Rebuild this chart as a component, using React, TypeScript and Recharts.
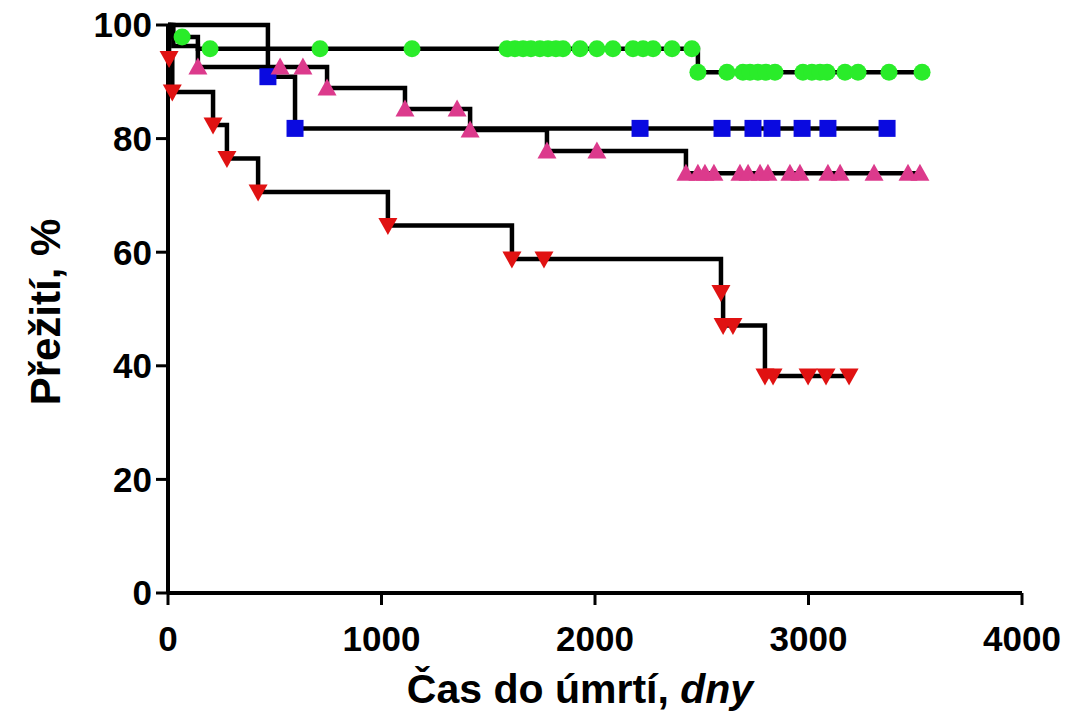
import React from "react";
import { ComposedChart, Line, Scatter, XAxis, YAxis, Label } from "recharts";

// Kaplan–Meier curves: event days and survival (%) after each event
const greenEventDays = [15, 140, 2482];
const greenEventSurv = [97.9, 95.8, 91.7];
const greenEndDay = 3532;
const greenMarkDays = [66, 197, 712, 1143, 1588, 1625, 1663, 1700, 1742, 1780, 1817, 1850, 1930, 2009, 2084, 2178, 2225, 2272, 2361, 2454, 2482, 2618, 2693, 2726, 2763, 2801, 2843, 2974, 3016, 3054, 3087, 3171, 3232, 3377, 3532];

const blueEventDays = [468, 595];
const blueEventSurv = [90.9, 81.8];
const blueEndDay = 3368;
const blueMarkDays = [468, 595, 2211, 2595, 2740, 2829, 2970, 3091, 3368];

const pinkEventDays = [25, 140, 745, 1110, 1415, 1775, 2426];
const pinkEventSurv = [96.3, 92.6, 88.9, 85.2, 81.5, 77.8, 73.9];
const pinkEndDay = 3522;
const pinkMarkDays = [140, 525, 632, 745, 1110, 1354, 1415, 1775, 2009, 2426, 2482, 2515, 2557, 2679, 2717, 2773, 2810, 2913, 2960, 3091, 3148, 3307, 3466, 3522];

const redEventDays = [5, 20, 211, 276, 422, 1030, 1611, 2590, 2600, 2796];
const redEventSurv = [94.1, 88.2, 82.4, 76.5, 70.6, 64.7, 58.8, 52.9, 47.1, 38.2];
const redEndDay = 3190;
const redMarkDays = [5, 20, 211, 276, 422, 1030, 1611, 1761, 2590, 2600, 2646, 2796, 2834, 2998, 3082, 3190];

const xTicks = [0, 1000, 2000, 3000, 4000];
const yTicks = [0, 20, 40, 60, 80, 100];

const GREEN = "#2aec2a";
const BLUE = "#0a0ae0";
const PINK = "#dc3a8c";
const RED = "#e01212";

function stepData(days: number[], surv: number[], end: number) {
  const pts = [{ x: 0, y: 100 }];
  days.forEach((d, i) => pts.push({ x: d, y: surv[i] }));
  pts.push({ x: end, y: surv[surv.length - 1] });
  return pts;
}

function survAt(days: number[], surv: number[], t: number) {
  let s = 100;
  days.forEach((d, i) => {
    if (d <= t) s = surv[i];
  });
  return s;
}

function markData(marks: number[], days: number[], surv: number[]) {
  return marks.map((t) => ({ x: t, y: survAt(days, surv, t) }));
}

const CircleMark = (p: any) => <circle cx={p.cx} cy={p.cy} r={8.5} fill={GREEN} />;
const SquareMark = (p: any) => (
  <rect x={p.cx - 8.5} y={p.cy - 8.5} width={17} height={17} fill={BLUE} />
);
const UpTri = (p: any) => (
  <polygon
    points={`${p.cx},${p.cy - 9.5} ${p.cx - 9.5},${p.cy + 7.5} ${p.cx + 9.5},${p.cy + 7.5}`}
    fill={PINK}
  />
);
const DownTri = (p: any) => (
  <polygon
    points={`${p.cx - 9.5},${p.cy - 7.5} ${p.cx + 9.5},${p.cy - 7.5} ${p.cx},${p.cy + 9.5}`}
    fill={RED}
  />
);

const FONT = "'Liberation Sans', Arial, sans-serif";

const XTitle = () => (
  <text
    x={580}
    y={703}
    textAnchor="middle"
    fontFamily={FONT}
    fontWeight="bold"
    fontSize={41}
    fill="#000"
  >
    Čas do úmrtí, <tspan fontStyle="italic">dny</tspan>
  </text>
);

const YTitle = () => (
  <text
    x={0}
    y={0}
    transform="translate(60,312) rotate(-90)"
    textAnchor="middle"
    fontFamily={FONT}
    fontWeight="bold"
    fontSize={42}
    fill="#000"
  >
    Přežití, %
  </text>
);

export default function App() {
  const green = stepData(greenEventDays, greenEventSurv, greenEndDay);
  const blue = stepData(blueEventDays, blueEventSurv, blueEndDay);
  const pink = stepData(pinkEventDays, pinkEventSurv, pinkEndDay);
  const red = stepData(redEventDays, redEventSurv, redEndDay);
  const tickStyle = { fontSize: 35, fontWeight: "bold", fill: "#000", fontFamily: FONT };
  return (
    <div style={{ position: "absolute", left: 0, top: 0, background: "#fff" }}>
      <ComposedChart
        width={1072}
        height={724}
        margin={{ top: 25, right: 50, bottom: 0, left: 0 }}
      >
        <XAxis
          type="number"
          dataKey="x"
          domain={[0, 4000]}
          ticks={xTicks}
          height={131}
          axisLine={{ stroke: "#000", strokeWidth: 4 }}
          tickLine={{ stroke: "#000", strokeWidth: 3 }}
          tickSize={12}
          tickMargin={21}
          tick={tickStyle}
          interval={0}
        >
          <Label content={<XTitle />} />
        </XAxis>
        <YAxis
          type="number"
          dataKey="y"
          domain={[0, 100]}
          ticks={yTicks}
          width={168}
          axisLine={{ stroke: "#000", strokeWidth: 4 }}
          tickLine={{ stroke: "#000", strokeWidth: 3 }}
          tickSize={12}
          tickMargin={4}
          tick={tickStyle}
          interval={0}
        >
          <Label content={<YTitle />} />
        </YAxis>
        <Line data={green} dataKey="y" type="stepAfter" stroke="#000" strokeWidth={4.5} dot={false} isAnimationActive={false} />
        <Line data={blue} dataKey="y" type="stepAfter" stroke="#000" strokeWidth={4.5} dot={false} isAnimationActive={false} />
        <Line data={pink} dataKey="y" type="stepAfter" stroke="#000" strokeWidth={4.5} dot={false} isAnimationActive={false} />
        <Line data={red} dataKey="y" type="stepAfter" stroke="#000" strokeWidth={4.5} dot={false} isAnimationActive={false} />
        <Scatter data={markData(greenMarkDays, greenEventDays, greenEventSurv)} dataKey="y" shape={CircleMark} isAnimationActive={false} />
        <Scatter data={markData(blueMarkDays, blueEventDays, blueEventSurv)} dataKey="y" shape={SquareMark} isAnimationActive={false} />
        <Scatter data={markData(pinkMarkDays, pinkEventDays, pinkEventSurv)} dataKey="y" shape={UpTri} isAnimationActive={false} />
        <Scatter data={markData(redMarkDays, redEventDays, redEventSurv)} dataKey="y" shape={DownTri} isAnimationActive={false} />
      </ComposedChart>
    </div>
  );
}
